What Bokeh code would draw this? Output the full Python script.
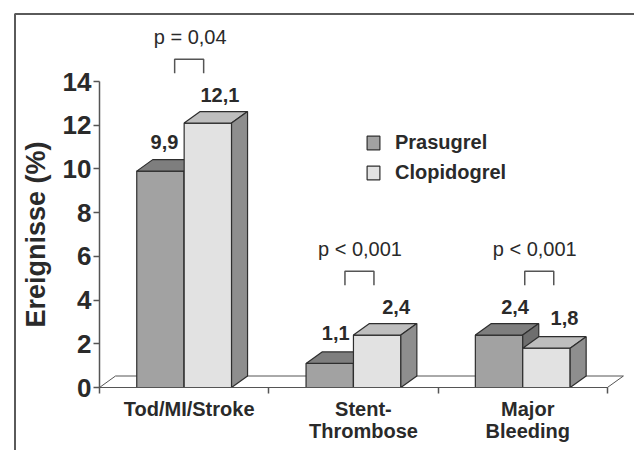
from bokeh.plotting import figure
from bokeh.models import Range1d, FixedTicker, Legend, LegendItem, ColumnDataSource
from bokeh.embed import file_html
from bokeh.resources import INLINE
from bokeh.core.properties import value

# ---------------- data ----------------
categories = ["Tod/MI/Stroke", "Stent-\nThrombose", "Major\nBleeding"]
series_names = ["Prasugrel", "Clopidogrel"]
prasugrel = [9.9, 1.1, 2.4]
clopidogrel = [12.1, 2.4, 1.8]
p_labels = ["p = 0,04", "p < 0,001", "p < 0,001"]
y_ticks = [0, 2, 4, 6, 8, 10, 12, 14]

# ---------------- style ----------------
FONT = "Liberation Sans"
TXT = "#2a2a2a"
EDGE = "#2e2e2e"
AXC = "#555555"
PX_X = 169.3          # px per category unit
PX_Y = 21.857         # px per percent
W = 0.28              # bar width (category units)
DX = 16 / PX_X        # 3D depth
DY = 11.5 / PX_Y
FRONT = ["#a2a2a2", "#e2e2e2"]
TOP = ["#7e7e7e", "#bebebe"]
SIDE = ["#6e6e6e", "#8e8e8e"]
label_nudge_px = [[4, 6, 16], [12, 19, 18]]      # value label nudges
label_lift_px = [[18, 19, 17], [17, 17, 19]]
cat_label_nudge_px = [5, 10, 5]
ptext_nudge_px = [6, 6.5, 12]
bracket_nudge_px = [5, 6, 16.5]

W_FIG, H_FIG = 634, 450
X0_PX, Y0_PX = 99, 387        # figure px of the data origin
x_start, x_end = -X0_PX / PX_X, (W_FIG - X0_PX) / PX_X
y_start, y_end = -(H_FIG - Y0_PX) / PX_Y, Y0_PX / PX_Y

p = figure(width=W_FIG, height=H_FIG, output_backend="svg", toolbar_location=None,
           x_range=Range1d(x_start, x_end), y_range=Range1d(y_start, y_end),
           min_border=0, outline_line_color=None)
p.grid.visible = False

n = len(categories)

# outer frame lines (left and top)
fx = (14.5 - X0_PX) / PX_X
fy = (Y0_PX - 13.5) / PX_Y
p.line([fx, fx, x_end + 1], [y_start - 1, fy, fy], line_color="#5a5a5a", line_width=2)

# floor
p.patch([0, n, n + DX, DX], [0, 0, DY, DY], fill_color="white", line_color=AXC, line_width=1)

front_renderers = []
for s, vals in enumerate([prasugrel, clopidogrel]):
    xl = [i + 0.5 - W + s * W for i in range(n)]
    xr = [x + W for x in xl]
    xc = [(a + b) / 2 for a, b in zip(xl, xr)]
    r = p.vbar(x=xc, width=W, top=vals, bottom=0, fill_color=FRONT[s],
               line_color=EDGE, line_width=1.2)
    front_renderers.append(r)
    tops_x = [[a, b, b + DX, a + DX] for a, b in zip(xl, xr)]
    tops_y = [[v, v, v + DY, v + DY] for v in vals]
    p.patches(tops_x, tops_y, fill_color=TOP[s], line_color=EDGE, line_width=1.2)
    side_x = [[b, b + DX, b + DX, b] for b in xr]
    side_y = [[0, DY, v + DY, v] for v in vals]
    p.patches(side_x, side_y, fill_color=SIDE[s], line_color=EDGE, line_width=1.2)
    src = ColumnDataSource(dict(
        x=[c + d / PX_X for c, d in zip(xc, label_nudge_px[s])],
        y=[v + DY + l / PX_Y for v, l in zip(vals, label_lift_px[s])],
        t=[f"{v:.1f}".replace(".", ",") for v in vals]))
    p.text(x="x", y="y", text="t", source=src, text_align="center",
           text_baseline="alphabetic", text_font=value(FONT),
           text_font_style="bold", text_font_size="20px", text_color=TXT)

# p-value brackets
maxv = [max(a, b) for a, b in zip(prasugrel, clopidogrel)]
HB = 14.5 / PX_X
bx, by = [], []
for i in range(n):
    c = i + 0.5 + bracket_nudge_px[i] / PX_X
    b = maxv[i] + 2.28
    t = b + 14 / PX_Y
    bx.append([c - HB, c - HB, c + HB, c + HB])
    by.append([b, t, t, b])
p.multi_line(bx, by, line_color=AXC, line_width=1.5)
psrc = ColumnDataSource(dict(
    x=[i + 0.5 + ptext_nudge_px[i] / PX_X for i in range(n)],
    y=[m + 2.28 + 14 / PX_Y + 22 / PX_Y for m in maxv],
    t=p_labels))
p.text(x="x", y="y", text="t", source=psrc, text_align="center", text_baseline="alphabetic",
       text_font=value(FONT), text_font_size="20px", text_color=TXT)

# axes (fixed at the data origin)
ya = p.yaxis[0]
ya.fixed_location = 0
ya.ticker = FixedTicker(ticks=y_ticks)
ya.bounds = (0, 14)
ya.axis_label = "Ereignisse (%)"
ya.axis_label_text_font = FONT
ya.axis_label_text_font_style = "bold"
ya.axis_label_text_font_size = "27px"
ya.axis_label_text_color = TXT
ya.axis_label_standoff = 9
ya.major_label_text_font = FONT
ya.major_label_text_font_style = "bold"
ya.major_label_text_font_size = "26px"
ya.major_label_text_color = TXT
ya.major_label_standoff = 2
ya.major_tick_out = 6
ya.major_tick_in = 0
ya.minor_tick_line_color = None
ya.axis_line_color = AXC
ya.major_tick_line_color = AXC
ya.axis_line_width = 1.5
ya.major_tick_line_width = 1.5

xa = p.xaxis[0]
xa.fixed_location = 0
tick_pos = [i + 0.5 + cat_label_nudge_px[i] / PX_X for i in range(n)]
xa.ticker = FixedTicker(ticks=tick_pos, minor_ticks=list(range(n + 1)))
xa.major_label_overrides = {tp: c for tp, c in zip(tick_pos, categories)}
xa.bounds = (0, n)
xa.major_tick_out = 0
xa.major_tick_in = 0
xa.minor_tick_out = 6
xa.minor_tick_in = 0
xa.axis_line_color = AXC
xa.minor_tick_line_color = AXC
xa.minor_tick_line_width = 1.5
xa.major_label_text_font = FONT
xa.major_label_text_font_style = "bold"
xa.major_label_text_font_size = "20px"
xa.major_label_text_color = TXT
xa.major_label_text_line_height = 1.0
xa.major_label_standoff = 4

# legend
legend = Legend(items=[LegendItem(label=nm, renderers=[r]) for nm, r in zip(series_names, front_renderers)],
                location=(365, 266), padding=0, spacing=7, glyph_width=16, glyph_height=17,
                label_standoff=14, label_text_font=FONT, label_text_font_style="bold",
                label_text_font_size="20px", label_text_color=TXT, label_height=23,
                border_line_alpha=0, background_fill_alpha=0)
p.add_layout(legend)

open("out.html", "w").write(file_html(p, INLINE))
